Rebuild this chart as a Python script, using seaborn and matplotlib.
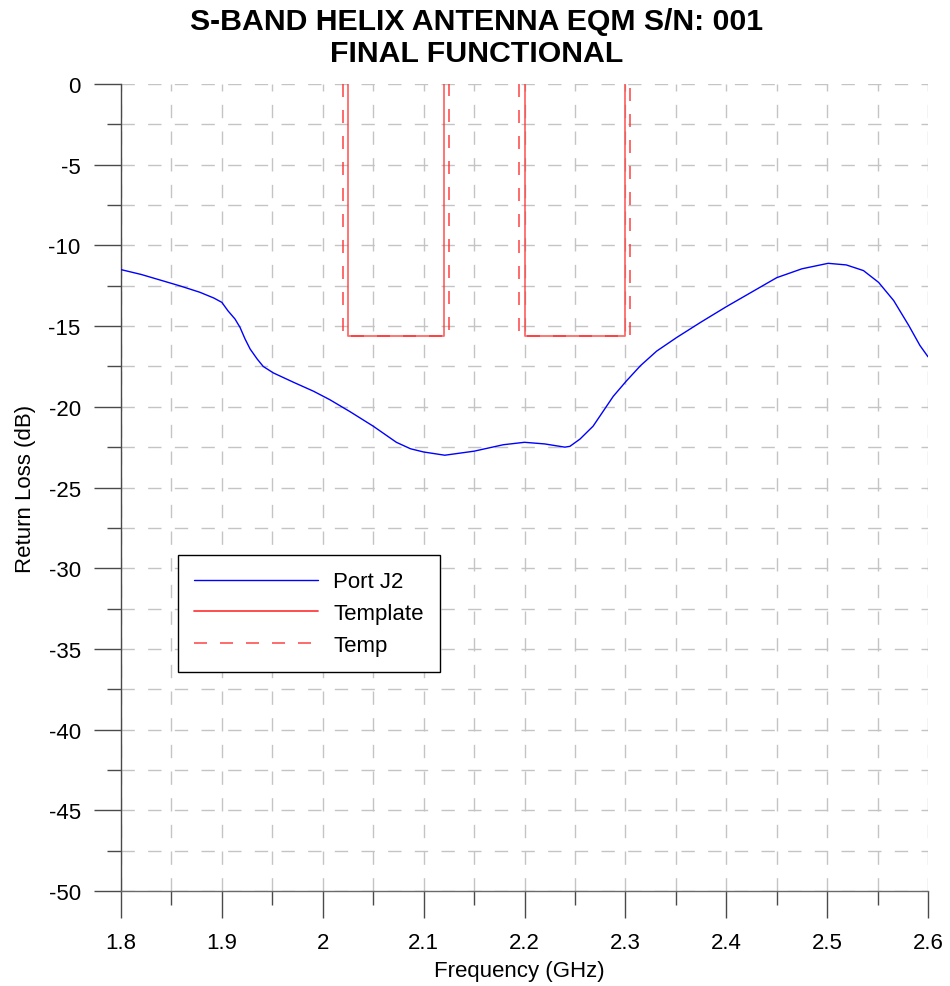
import numpy as np
import pandas as pd
import matplotlib
matplotlib.use("Agg")
import matplotlib.pyplot as plt
import seaborn as sns
from matplotlib.lines import Line2D
from matplotlib.ticker import MultipleLocator

# ---- data ----
freq_ghz = [1.800, 1.820, 1.839, 1.858, 1.878, 1.892, 1.900, 1.906, 1.913, 1.918, 1.923,
            1.928, 1.935, 1.941, 1.951, 1.971, 1.991, 2.007, 2.027, 2.050, 2.073, 2.087,
            2.100, 2.121, 2.150, 2.179, 2.200, 2.220, 2.240, 2.245, 2.255, 2.268, 2.288,
            2.301, 2.315, 2.331, 2.351, 2.375, 2.400, 2.425, 2.450, 2.475, 2.501, 2.519,
            2.536, 2.551, 2.566, 2.581, 2.592, 2.600]
port_j2_db = [-11.50, -11.80, -12.15, -12.50, -12.90, -13.26, -13.53, -14.05, -14.56, -15.08, -15.80,
              -16.42, -17.04, -17.50, -17.90, -18.48, -19.04, -19.56, -20.30, -21.20, -22.20, -22.60,
              -22.80, -23.00, -22.75, -22.35, -22.20, -22.30, -22.50, -22.45, -22.00, -21.20, -19.35,
              -18.40, -17.45, -16.55, -15.70, -14.75, -13.80, -12.90, -12.00, -11.45, -11.11, -11.21,
              -11.56, -12.29, -13.42, -14.97, -16.20, -16.90]

# Template (solid) mask boxes
template_f = [2.025, 2.025, 2.120, 2.120, 2.200, 2.200, 2.300, 2.300]
template_db = [0.0, -15.6, -15.6, 0.0, 0.0, -15.6, -15.6, 0.0]
template_unit = [1, 1, 1, 1, 2, 2, 2, 2]
# Temp (dashed) mask boxes
temp_f = [2.020, 2.020, 2.125, 2.125, 2.195, 2.195, 2.305, 2.305]
temp_db = [0.0, -15.6, -15.6, 0.0, 0.0, -15.6, -15.6, 0.0]
temp_unit = [1, 1, 1, 1, 2, 2, 2, 2]

x_ticks = [1.8, 1.9, 2.0, 2.1, 2.2, 2.3, 2.4, 2.5, 2.6]
x_tick_labels = ["1.8", "1.9", "2", "2.1", "2.2", "2.3", "2.4", "2.5", "2.6"]
y_ticks = [0, -5, -10, -15, -20, -25, -30, -35, -40, -45, -50]
y_tick_labels = ["0", "-5", "-10", "-15", "-20", "-25", "-30", "-35", "-40", "-45", "-50"]

series_names = ["Port J2", "Template", "Temp"]

# ---- style ----
sns.set_theme(style="white")
plt.rcParams["font.family"] = ["Liberation Sans", "DejaVu Sans"]
plt.rcParams["axes.unicode_minus"] = False
plt.rcParams["text.color"] = "black"
plt.rcParams["axes.labelcolor"] = "black"

FS = 16

fig = plt.figure(figsize=(9.5, 9.87), dpi=100)
ax = fig.add_axes([121 / 950, 1 - 892 / 987, (928 - 121) / 950, (892 - 85) / 987])

df_port = pd.DataFrame({"f": freq_ghz, "db": port_j2_db})
df_tmpl = pd.DataFrame({"f": template_f, "db": template_db, "u": template_unit})
df_temp = pd.DataFrame({"f": temp_f, "db": temp_db, "u": temp_unit})

red = "#ff2a2a"
sns.lineplot(data=df_temp, x="f", y="db", units="u", estimator=None, sort=False, ax=ax,
             color=red, lw=1.3, alpha=0.75, linestyle=(0, (7.2, 7.2)), zorder=3)
sns.lineplot(data=df_tmpl, x="f", y="db", units="u", estimator=None, sort=False, ax=ax,
             color=red, lw=1.3, alpha=0.7, zorder=3)
sns.lineplot(data=df_port, x="f", y="db", estimator=None, sort=False, ax=ax,
             color="#0000ff", lw=1.0, zorder=4)

ax.set_xlim(1.8, 2.6)
ax.set_ylim(-50, 0)
ax.set_xticks(x_ticks)
ax.set_xticklabels(x_tick_labels)
ax.set_yticks(y_ticks)
ax.set_yticklabels(y_tick_labels)
ax.xaxis.set_minor_locator(MultipleLocator(0.05))
ax.yaxis.set_minor_locator(MultipleLocator(2.5))

ax.grid(True, which="both", color="#c4c4c4", lw=1.0, linestyle=(0, (9.6, 9.6)))
ax.set_axisbelow(True)

ax.tick_params(axis="both", which="major", direction="out", length=19.5, width=1.0,
               color="#4a4a4a", labelsize=FS, labelcolor="black", pad=9.5)
ax.tick_params(axis="both", which="minor", direction="out", length=10, width=1.0,
               color="#4a4a4a")
ax.tick_params(axis="both", which="both", bottom=True, left=True, top=False, right=False)
ax.tick_params(axis="x", which="major", pad=10)

for s in ["top", "right"]:
    ax.spines[s].set_visible(False)
ax.spines["left"].set_color("#4a4a4a")
ax.spines["bottom"].set_color("#6a6a6a")
ax.spines["left"].set_linewidth(1.0)
ax.spines["bottom"].set_linewidth(1.0)

ax.set_xlabel("Frequency (GHz)", fontsize=FS, labelpad=0)
ax.set_ylabel("Return Loss (dB)", fontsize=FS, labelpad=6)
ax.xaxis.set_label_coords(0.493, -0.085)
ax.yaxis.set_label_coords(-0.105, 0.5)

fig.suptitle("S-BAND HELIX ANTENNA EQM S/N: 001\nFINAL FUNCTIONAL", x=0.502, y=0.992,
             fontsize=21.8, fontweight="bold", va="top", linespacing=1.18, color="black")

handles = [
    Line2D([], [], color="#0000ff", lw=1.0),
    Line2D([], [], color=red, lw=1.3, alpha=0.9),
    Line2D([], [], color=red, lw=1.3, alpha=0.75, linestyle=(0, (7.2, 7.2))),
]
leg = ax.legend(handles, series_names, loc="upper left",
                bbox_to_anchor=((178 - 121) / 807, (892 - 556) / 807),
                fontsize=FS, frameon=True, fancybox=False, shadow=False,
                handlelength=5.56, handletextpad=0.68, borderpad=0.735, labelspacing=0.48,
                borderaxespad=0)
leg.get_frame().set_edgecolor("black")
leg.get_frame().set_linewidth(1.0)
leg.get_frame().set_facecolor("white")
leg.get_frame().set_alpha(1.0)

fig.savefig("out.png", dpi=100)
